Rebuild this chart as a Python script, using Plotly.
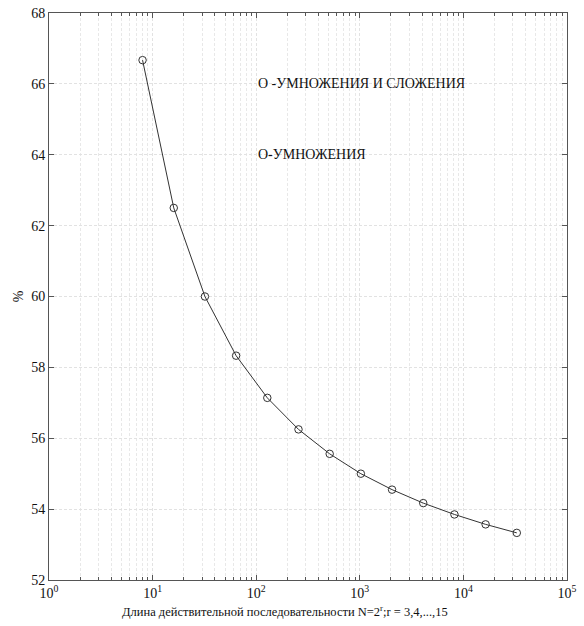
import plotly.graph_objects as go

N = [8, 16, 32, 64, 128, 256, 512, 1024, 2048, 4096, 8192, 16384, 32768]
percent = [66.67, 62.5, 60.0, 58.33, 57.14, 56.25, 55.56, 55.0, 54.55, 54.17, 53.85, 53.57, 53.33]

x_tickvals = [1, 10, 100, 1000, 10000, 100000]
x_ticktext = ["10<sup>0</sup>", "10<sup>1</sup>", "10<sup>2</sup>", "10<sup>3</sup>", "10<sup>4</sup>", "10<sup>5</sup>"]
y_tickvals = [52, 54, 56, 58, 60, 62, 64, 66, 68]

labels = ["О -УМНОЖЕНИЯ И СЛОЖЕНИЯ", "О-УМНОЖЕНИЯ"]
label_y = [66, 64]
x_title = "Длина действительной последовательности N=2<sup>r</sup>;r = 3,4,...,15"

minor_vals = [m * 10 ** e for e in range(0, 5) for m in range(2, 10)]

font = "Liberation Serif, Times New Roman, serif"

fig = go.Figure()
fig.add_trace(go.Scatter(
    x=N, y=percent, mode="lines+markers",
    line=dict(color="#333333", width=1),
    marker=dict(symbol="circle-open", size=7.5, color="#333333", line=dict(width=1)),
    showlegend=False,
))

for t, yy in zip(labels, label_y):
    fig.add_annotation(x=2, y=yy, xref="x", yref="y", text=t, showarrow=False,
                       xanchor="left", yanchor="middle",
                       font=dict(family=font, size=14, color="#111111"))

fig.add_annotation(x=0.456, y=-0.055, xref="paper", yref="paper", text=x_title,
                   showarrow=False, xanchor="center", yanchor="middle",
                   font=dict(family=font, size=12.5, color="#111111"))

fig.update_layout(
    width=584, height=626,
    margin=dict(l=49, r=17, t=13, b=46, autoexpand=False),
    plot_bgcolor="white", paper_bgcolor="white",
    font=dict(family=font, size=14, color="#111111"),
)
fig.update_xaxes(
    type="log", range=[0, 5], automargin=False,
    tickvals=x_tickvals, ticktext=x_ticktext,
    ticks="inside", ticklen=5, tickcolor="#555555",
    showline=True, linecolor="#555555", linewidth=1, mirror="ticks",
    showgrid=True, gridcolor="#e2e2e2", griddash="3px,2px", gridwidth=1,
    zeroline=False,
    tickfont=dict(family=font, size=14),
    minor=dict(tickvals=minor_vals, ticks="inside", ticklen=3, tickcolor="#555555",
               showgrid=True, gridcolor="#e8e8e8", griddash="3px,2px", gridwidth=1),
)
fig.update_yaxes(
    range=[52, 68], tickvals=y_tickvals, automargin=False,
    ticks="inside", ticklen=5, tickcolor="#555555",
    showline=True, linecolor="#555555", linewidth=1, mirror="ticks",
    showgrid=True, gridcolor="#e2e2e2", griddash="3px,2px", gridwidth=1,
    zeroline=False,
    tickfont=dict(family=font, size=14),
    title=dict(text="%", font=dict(family=font, size=14), standoff=4),
)

fig.write_html("out.html")
